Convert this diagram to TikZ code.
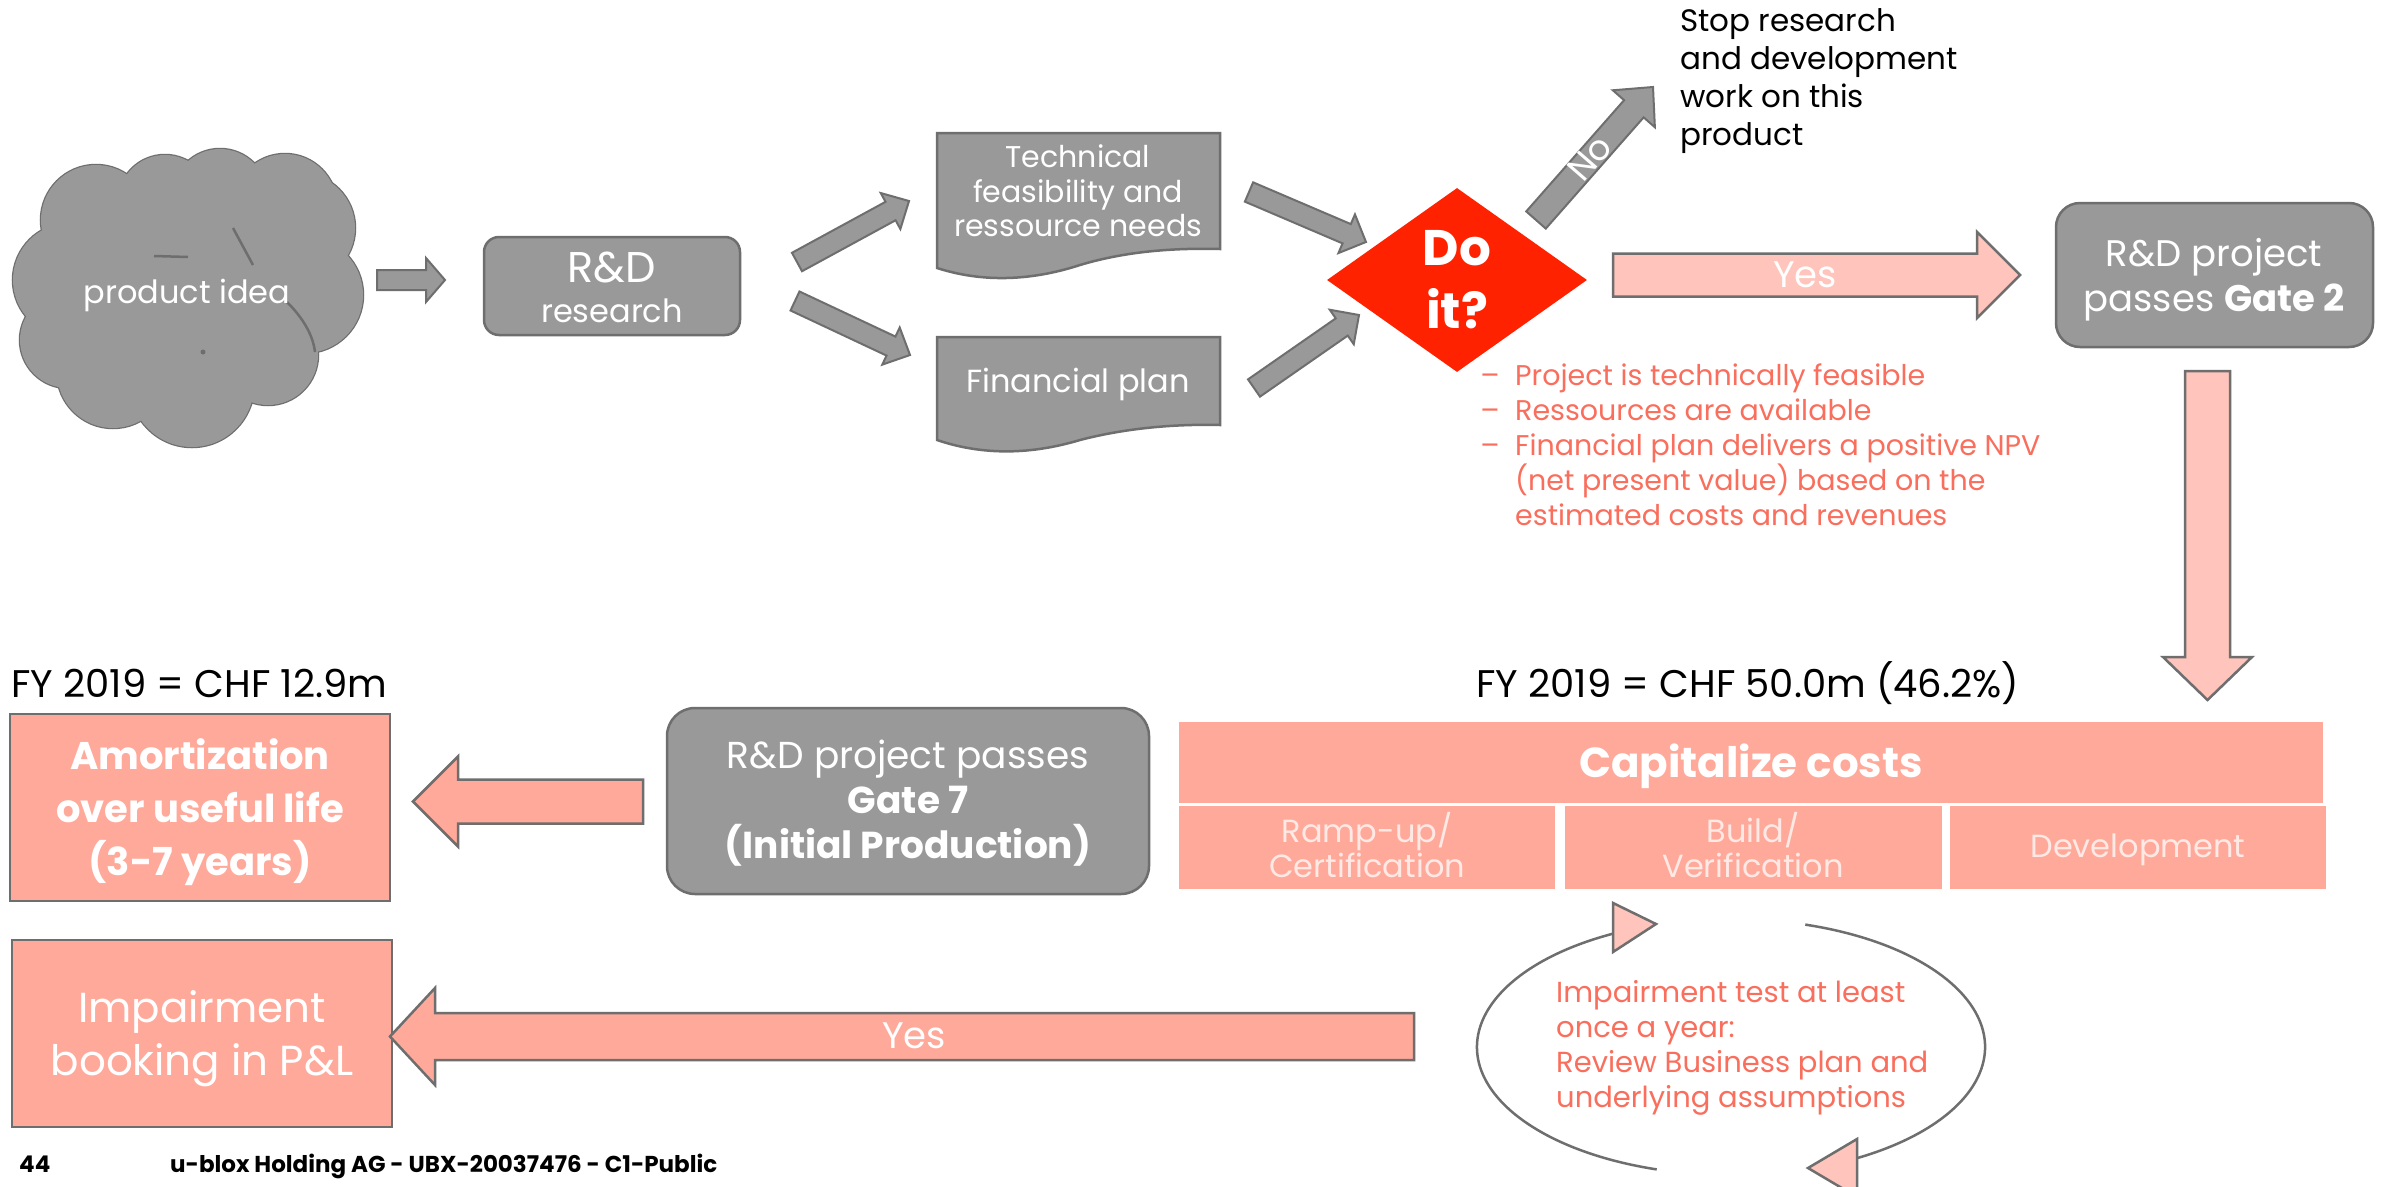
\documentclass[tikz,border=0pt]{standalone}
\usepackage{fontspec}
\setmainfont{Poppins}
\usetikzlibrary{calc,shapes.geometric}

\definecolor{boxgray}{HTML}{999999}
\definecolor{edgegray}{HTML}{6E6E6E}
\definecolor{lightpink}{HTML}{FFC4BB}
\definecolor{salmon}{HTML}{FFA99B}
\definecolor{signal}{HTML}{FF2200}
\definecolor{notered}{HTML}{F96E5C}
\definecolor{paletext}{HTML}{FFE9E5}

\newcommand\fsz[1]{\fontsize{#1}{#1}\selectfont}

% block arrow: style, tail, tip, half body width, half head width, head length
\newcommand\blockarrow[6]{%
  \coordinate (bahead) at ($(#3)!#6!(#2)$);
  \draw[#1] ($(#2)!#4!90:(#3)$) -- ($(bahead)!#4!90:(#3)$) -- ($(bahead)!#5!90:(#3)$) -- (#3)
    -- ($(bahead)!#5!-90:(#3)$) -- ($(bahead)!#4!-90:(#3)$) -- ($(#2)!#4!-90:(#3)$) -- cycle;}

\begin{document}
\begin{tikzpicture}[x=1pt,y=-1pt,
  txt/.style={anchor=base, inner sep=0pt},
  wtxt/.style={txt, text=white},
  rtxt/.style={anchor=base west, inner sep=0pt, text=notered, font=\fsz{28.5}},
  graybox/.style={draw=edgegray, fill=boxgray, line width=2.5pt, inner sep=0pt},
  salmonbox/.style={draw=edgegray, fill=salmon, line width=2.5pt, inner sep=0pt},
  flatbox/.style={fill=salmon, inner sep=0pt},
  grayarrow/.style={draw=edgegray, fill=boxgray, line width=2pt},
  pinkarrow/.style={draw=edgegray, fill=lightpink, line width=2.5pt},
  salmonarrow/.style={draw=edgegray, fill=salmon, line width=2.5pt},
  cycleline/.style={draw=edgegray, line width=2.5pt}]

\useasboundingbox (0,0) rectangle (2382,1186);
\fill[white] (0,0) rectangle (2382,1186);

% ---------- product idea cloud ----------
\def\puffs{70/280/57, 96/220/55, 165/202/47, 220/197/48, 285/206/52, 300/228/55,
  305/295/58, 268/355/50, 192/385/62, 113/372/56, 68/340/48}
\foreach \cx/\cy/\rad in \puffs
  \draw[edgegray, line width=2.5pt] (\cx,\cy) circle[radius=\rad pt];
\foreach \cx/\cy/\rad in \puffs
  \fill[boxgray] (\cx,\cy) circle[radius=\rad pt];
\fill[boxgray] (190,292) circle[radius=110pt];
\draw[edgegray, line width=2.5pt] (154,256) -- (188,257);
\draw[edgegray, line width=2.5pt] (233,228) -- (253,265);
\draw[edgegray, line width=2.5pt] (287,302) .. controls (303,318) and (313,335) .. (315,352);
\fill[edgegray] (203,352) circle[radius=2.5pt];
\node[wtxt, font=\fsz{32}] (idea) at (187,303) {product idea};

% ---------- R&D research ----------
\node[graybox, rounded corners=15pt, minimum width=256pt, minimum height=98pt] (rd) at (612,286) {};
\node[wtxt, font=\fsz{43}] (rdtitle) at (612,282) {R\&D};
\node[wtxt, font=\fsz{32}] (rdsub) at (612,322) {research};

% ---------- documents ----------
\draw[graybox] (937,133) -- (1220,133) -- (1220,249)
  .. controls (1180,248) and (1130,250) .. (1080,265)
  .. controls (1040,278) and (990,285) .. (937,268) -- cycle;
\node[wtxt, font=\fsz{30}] (tech1) at (1078,167) {Technical};
\node[wtxt, font=\fsz{30}] (tech2) at (1078,202) {feasibility and};
\node[wtxt, font=\fsz{30}] (tech3) at (1078,236) {ressource needs};

\draw[graybox] (937,337) -- (1220,337) -- (1220,425)
  .. controls (1180,424) and (1130,427) .. (1080,440)
  .. controls (1040,452) and (990,458) .. (937,440) -- cycle;
\node[wtxt, font=\fsz{32}] (fin) at (1078,392) {Financial plan};

% ---------- decision ----------
\node[diamond, fill=signal, minimum width=260pt, minimum height=184pt, inner sep=0pt] (dia) at (1457,280) {};
\node[wtxt, font=\bfseries\fsz{50}] (do) at (1457,265) {Do};
\node[wtxt, font=\bfseries\fsz{50}] (it) at (1457,328) {it?};

\node[anchor=base west, inner sep=0pt, font=\fsz{31}] (stop1) at (1680,31) {Stop research};
\node[anchor=base west, inner sep=0pt, font=\fsz{31}] (stop2) at (1680,69) {and development};
\node[anchor=base west, inner sep=0pt, font=\fsz{31}] (stop3) at (1680,107) {work on this};
\node[anchor=base west, inner sep=0pt, font=\fsz{31}] (stop4) at (1680,145) {product};

% criteria list
\foreach \yy/\dash/\words [count=\i] in {
   385/--/Project is technically feasible,
   420/--/Ressources are available,
   455/--/Financial plan delivers a positive NPV,
   490//(net present value) based on the,
   525//estimated costs and revenues} {
  \node[rtxt] (crit\i) at (1515,\yy) {\words};
  \node[anchor=base, inner sep=0pt, text=notered, font=\fsz{28.5}] (dash\i) at (1490,\yy) {\ifx\dash\empty\else –\fi};
}

% ---------- Gate 2 ----------
\node[graybox, rounded corners=24pt, minimum width=317pt, minimum height=144pt] (gate2) at (2214.5,275) {};
\node[wtxt, font=\fsz{37}] (g2a) at (2214,266) {R\&D project};
\node[wtxt, font=\fsz{37}] (g2b) at (2214,311) {passes \textbf{Gate 2}};

% ---------- lower row ----------
\node[anchor=base west, inner sep=0pt, font=\fsz{38.5}] (fy1) at (11,697) {FY 2019 = CHF 12.9m};
\node[anchor=base west, inner sep=0pt, font=\fsz{38.5}] (fy2) at (1476,697) {FY 2019 = CHF 50.0m (46.2\%)};

\node[salmonbox, minimum width=380pt, minimum height=187pt] (amort) at (200,807.5) {};
\node[wtxt, font=\bfseries\fsz{38.5}] (am1) at (200,769) {Amortization};
\node[wtxt, font=\bfseries\fsz{38.5}] (am2) at (200,822) {over useful life};
\node[wtxt, font=\bfseries\fsz{38.5}] (am3) at (200,875) {(3-7 years)};

\node[graybox, rounded corners=28pt, minimum width=482pt, minimum height=186pt] (gate7) at (908,801) {};
\node[wtxt, font=\fsz{37.5}] (g7a) at (908,768) {R\&D project passes};
\node[wtxt, font=\bfseries\fsz{37.5}] (g7b) at (908,813) {Gate 7};
\node[wtxt, font=\bfseries\fsz{37.5}] (g7c) at (908,858) {(Initial Production)};

\node[flatbox, minimum width=1144pt, minimum height=81pt] (cap) at (1751,762.5) {};
\node[wtxt, font=\bfseries\fsz{42}] (captxt) at (1751,777) {Capitalize costs};
\node[flatbox, minimum width=376pt, minimum height=83pt] (ramp) at (1367,847.5) {};
\node[flatbox, minimum width=377pt, minimum height=83pt] (build) at (1753.5,847.5) {};
\node[flatbox, minimum width=376pt, minimum height=83pt] (devel) at (2138,847.5) {};
\node[txt, text=paletext, font=\fsz{32}] (ramp1) at (1367,842) {Ramp-up/};
\node[txt, text=paletext, font=\fsz{32}] (ramp2) at (1367,877) {Certification};
\node[txt, text=paletext, font=\fsz{32}] (build1) at (1753,842) {Build/};
\node[txt, text=paletext, font=\fsz{32}] (build2) at (1753,877) {Verification};
\node[txt, text=paletext, font=\fsz{32}] (devel1) at (2138,857) {Development};

\node[salmonbox, minimum width=380pt, minimum height=187pt] (impair) at (202,1033.5) {};
\node[wtxt, font=\fsz{42}] (im1) at (202,1022) {Impairment};
\node[wtxt, font=\fsz{42}] (im2) at (202,1075) {booking in P\&L};

% ---------- impairment test cycle ----------
\coordinate (cyc) at (1731,1047);
\draw[cycleline] (cyc) ++(116:254pt and 128pt)
  arc[start angle=116, end angle=253, x radius=254pt, y radius=128pt];
\draw[cycleline] (cyc) ++(73:254pt and 128pt)
  arc[start angle=73, end angle=-61, x radius=254pt, y radius=128pt];
\draw[pinkarrow] (1613,903) -- (1613,952) -- (1656,924) -- cycle;
\draw[pinkarrow] (1857,1139) -- (1857,1197) -- (1808,1168) -- cycle;
\node[anchor=base west, inner sep=0pt, text=notered, font=\fsz{29}] (cyc1) at (1556,1002) {Impairment test at least};
\node[anchor=base west, inner sep=0pt, text=notered, font=\fsz{29}] (cyc2) at (1556,1037) {once a year:};
\node[anchor=base west, inner sep=0pt, text=notered, font=\fsz{29}] (cyc3) at (1556,1072) {Review Business plan and};
\node[anchor=base west, inner sep=0pt, text=notered, font=\fsz{29}] (cyc4) at (1556,1107) {underlying assumptions};

% ---------- block arrows ----------
\coordinate (a1t) at (377,280);   \coordinate (a1h) at (445,280);
\coordinate (a2t) at (797,262);   \coordinate (a2h) at (909,201);
\coordinate (a3t) at (795,301);   \coordinate (a3h) at (910,355);
\coordinate (a4t) at (1249,192);  \coordinate (a4h) at (1366,242);
\coordinate (a5t) at (1254,388);  \coordinate (a5h) at (1359,315);
\coordinate (a6t) at (1536,220);  \coordinate (a6h) at (1653,87);
\coordinate (a7t) at (1613,275);  \coordinate (a7h) at (2020,275);
\coordinate (a8t) at (2207.5,371); \coordinate (a8h) at (2207.5,700);
\coordinate (a9t) at (643,801.5); \coordinate (a9h) at (413,801.5);
\coordinate (a10t) at (1414,1036.5); \coordinate (a10h) at (390,1036.5);

\blockarrow{grayarrow}{a1t}{a1h}{10pt}{22pt}{19pt}
\blockarrow{grayarrow}{a2t}{a2h}{10.5pt}{20.5pt}{21pt}
\blockarrow{grayarrow}{a3t}{a3h}{10.5pt}{20.5pt}{21pt}
\blockarrow{grayarrow}{a4t}{a4h}{10.5pt}{21pt}{21pt}
\blockarrow{grayarrow}{a5t}{a5h}{10.5pt}{21pt}{21pt}
\blockarrow{grayarrow}{a6t}{a6h}{13pt}{28pt}{29pt}
\blockarrow{pinkarrow}{a7t}{a7h}{21.5pt}{43pt}{43pt}
\blockarrow{pinkarrow}{a8t}{a8h}{22.5pt}{44.5pt}{43pt}
\blockarrow{salmonarrow}{a9t}{a9h}{22pt}{45pt}{45pt}
\blockarrow{salmonarrow}{a10t}{a10h}{23.5pt}{48.5pt}{45pt}

\node[text=white, inner sep=0pt, font=\fsz{35}, rotate=49] (no) at (1590,158) {No};
\node[text=white, inner sep=0pt, font=\fsz{37}] (yes1) at (1805,275) {Yes};
\node[text=white, inner sep=0pt, font=\fsz{37}] (yes2) at (914,1036) {Yes};

% ---------- footer ----------
\node[anchor=base west, inner sep=0pt, font=\bfseries\fsz{23}] (page) at (19,1172) {44};
\node[anchor=base west, inner sep=0pt, font=\bfseries\fsz{23}] (foot) at (170,1172) {u-blox Holding AG - UBX-20037476 - C1-Public};
\end{tikzpicture}
\end{document}
